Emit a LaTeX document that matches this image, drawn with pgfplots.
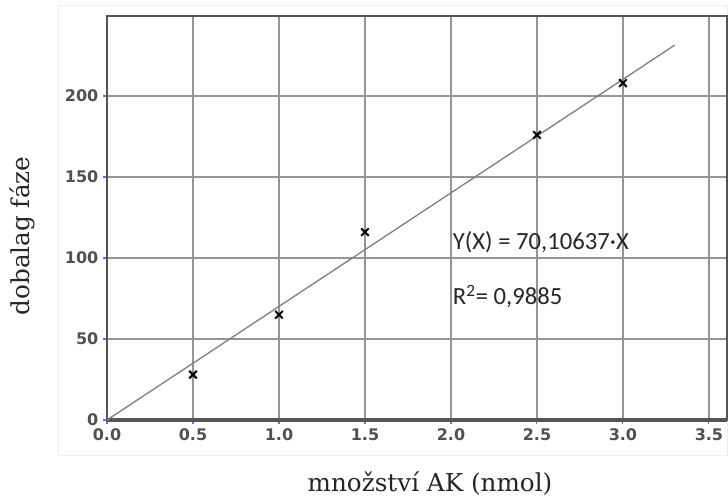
\documentclass[border=0pt]{standalone}
\usepackage{fontspec}
\usepackage{pgfplots}
\pgfplotsset{compat=1.18}
\newfontfamily\tickfont{DejaVu Sans}
\newfontfamily\labfont{DejaVu Serif}
\newfontfamily\annfont{Carlito}
\definecolor{gridc}{HTML}{959595}
\definecolor{framec}{HTML}{555555}
\definecolor{tickc}{HTML}{6A6AFF}
\definecolor{labc}{HTML}{505050}
\definecolor{fitc}{HTML}{808080}
\begin{document}
\begin{tikzpicture}
\useasboundingbox (0,0) rectangle (546pt,372.75pt);
\draw[black!7, line width=0.6pt] (43.5pt,31.5pt) rectangle (545.7pt,369pt);
\begin{axis}[
  at={(80.25pt,57.75pt)}, anchor=south west,
  scale only axis, width=465pt, height=303pt,
  xmin=0, xmax=3.605, ymin=0, ymax=249.4,
  xtick={0,0.5,...,3.5}, ytick={0,50,...,200},
  xtick pos=left, ytick pos=left,
  grid=major, major grid style={gridc, line width=1.1pt},
  axis line style={framec, line width=1.5pt},
  tick align=outside, major tick length=3pt,
  tick style={tickc, line width=0.8pt},
  /pgf/number format/assume math mode=true,
  tick label style={font=\tickfont\bfseries\fontsize{12}{14}\selectfont, text=labc},
  xticklabel style={/pgf/number format/.cd, fixed, fixed zerofill, precision=1},
  yticklabel style={/pgf/number format/.cd, fixed, precision=0},
  clip=false,
]
\draw[framec, line width=2.6pt] (rel axis cs:0,0) -- (rel axis cs:1,0);
\addplot[fitc, line width=1pt, no marks] coordinates {(0,0) (3.3,231.35)};
\addplot[only marks, mark=x, mark size=4pt, black, line width=1.5pt] coordinates {
  (0.5,28) (1.0,65) (1.5,116) (2.5,176) (3.0,208)};
\node[anchor=base west, font=\annfont\fontsize{18.5}{20}\selectfont, text=black!85, inner sep=0pt] at (axis cs:2.01,105) {Y(X) = 70,10637·X};
\node[anchor=base west, font=\annfont\fontsize{18.5}{20}\selectfont, text=black!85, inner sep=0pt] at (axis cs:2.01,71) {R\textsuperscript{2}= 0,9885};
\end{axis}
\node[anchor=base, font=\labfont\fontsize{18.5}{20}\selectfont, text=black!85, inner sep=0pt] at (322.5pt,4.5pt) {množství AK (nmol)};
\node[rotate=90, anchor=base, font=\labfont\fontsize{18.5}{20}\selectfont, text=black!85, inner sep=0pt] at (22pt,195.75pt) {dobalag fáze};
\end{tikzpicture}
\end{document}
